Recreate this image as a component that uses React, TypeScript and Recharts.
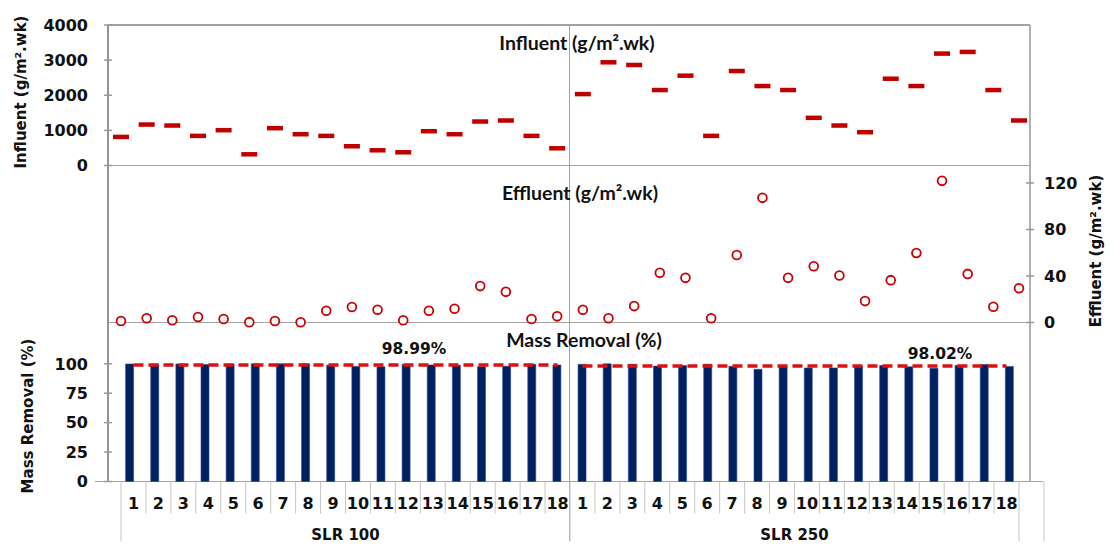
import React from 'react';
import { ComposedChart, Line, Bar, XAxis, YAxis } from 'recharts';

const weeks = ['1', '2', '3', '4', '5', '6', '7', '8', '9', '10', '11', '12', '13', '14', '15', '16', '17', '18'];
const groups = ['SLR 100', 'SLR 250'];

// g/m2.wk
const influent100 = [814, 1166, 1138, 843, 1005, 319, 1062, 890, 843, 548, 433, 376, 976, 890, 1252, 1281, 843, 490];
const influent250 = [2033, 2938, 2862, 2148, 2557, 843, 2690, 2262, 2148, 1357, 1138, 948, 2471, 2262, 3186, 3233, 2148, 1281];
const effluent100 = [1.3, 3.6, 1.9, 4.7, 3.0, 0.3, 1.3, 0.2, 10.1, 13.3, 11.0, 1.9, 10.1, 11.8, 31.3, 26.4, 3.0, 5.3];
const effluent250 = [11.0, 3.6, 14.1, 42.7, 38.4, 3.6, 58.1, 107.2, 38.4, 48.4, 40.4, 18.4, 36.4, 59.8, 121.8, 41.8, 13.5, 29.5];
// %
const removal100 = [99.8, 99.7, 99.8, 99.4, 99.7, 99.9, 99.9, 100, 98.8, 97.6, 97.5, 99.5, 99.0, 98.7, 97.5, 97.9, 99.6, 98.9];
const removal250 = [99.5, 99.9, 99.5, 98.0, 98.5, 99.6, 97.8, 95.3, 98.2, 96.4, 96.4, 98.1, 98.5, 97.4, 96.2, 98.7, 99.4, 97.7];
const meanRemoval = [98.99, 98.02];

const influentTicks = [0, 1000, 2000, 3000, 4000];
const effluentTicks = [0, 40, 80, 120];
const removalTicks = [0, 25, 50, 75, 100];

const influentByGroup = [influent100, influent250];
const effluentByGroup = [effluent100, effluent250];
const removalByGroup = [removal100, removal250];

const data = groups.flatMap((group, g) =>
  weeks.map((week, i) => ({
    key: `${group}|${week}`,
    influent: influentByGroup[g][i],
    effluent: effluentByGroup[g][i],
    removal: removalByGroup[g][i],
    meanA: g === 0 ? meanRemoval[0] : null,
    meanB: g === 1 ? meanRemoval[1] : null,
  }))
);

const W = 1114;
const frame = '#a3a3a3';
const tickColor = '#999';
const cellLine = '#c6c6c6';
const tickFont: React.CSSProperties = { fontFamily: '"DejaVu Sans", Verdana, sans-serif', fontWeight: 700, fontSize: 16, fill: '#111' };
const titleFont: React.CSSProperties = { fontFamily: 'Lato, "Noto Sans", sans-serif', fontWeight: 700, fontSize: 19.5, color: '#111' };
const axisTitleFont: React.CSSProperties = { fontFamily: '"DejaVu Sans", Verdana, sans-serif', fontWeight: 700, fontSize: 15, color: '#111' };
const xPad = { left: 13, right: 11 };

function LeftTick({ x, y, payload }: any) {
  const ax = x + 20;
  return (
    <g>
      <line x1={ax - 4} x2={ax + 4} y1={y} y2={y} stroke={tickColor} strokeWidth={1.5} />
      <text x={x} y={y} dy={5.8} textAnchor="end" style={tickFont}>{payload.value}</text>
    </g>
  );
}

function RightTick({ x, y, payload }: any) {
  const ax = x - 14;
  return (
    <g>
      <line x1={ax - 4} x2={ax + 4} y1={y} y2={y} stroke={tickColor} strokeWidth={1.5} />
      <text x={x} y={y} dy={5.8} textAnchor="start" style={tickFont}>{payload.value}</text>
    </g>
  );
}

function WeekTick({ x, y, payload, index }: any) {
  const half = payload.offset || 12.47;
  const [group, week] = String(payload.value).split('|');
  const first = index % 18 === 0;
  return (
    <g>
      <line x1={x - half} x2={x - half} y1={y} y2={y + (first ? 60 : 32)} stroke={cellLine} />
      <text x={x} y={y + 27} textAnchor="middle" style={tickFont}>{week}</text>
      {first && (
        <text x={x + 17 * half} y={y + 58} textAnchor="middle" style={{ ...tickFont, fontSize: 15 }}>{group}</text>
      )}
      {index === 35 && (
        <>
          <line x1={x + half} x2={x + half} y1={y} y2={y + 60} stroke={cellLine} />
          <line x1={x + 3 * half} x2={x + 3 * half} y1={y} y2={y + 60} stroke={cellLine} />
        </>
      )}
    </g>
  );
}

function DashMark(props: any) {
  const { cx, cy, index } = props;
  if (cx == null || cy == null) return <g key={`n${index}`} />;
  return <rect key={`d${index}`} x={cx - 8} y={cy - 2.25} width={16} height={4.5} fill="#c00000" />;
}

function Rule({ x1, y1, x2, y2, color = frame, w = 1.5 }: any) {
  const horiz = y1 === y2;
  return (
    <div
      style={{
        position: 'absolute',
        left: horiz ? x1 : x1 - w / 2,
        top: horiz ? y1 - w / 2 : y1,
        width: horiz ? x2 - x1 : w,
        height: horiz ? w : y2 - y1,
        background: color,
      }}
    />
  );
}

function Centered({ x, y, rotate, style, children }: any) {
  return (
    <div
      style={{
        position: 'absolute',
        left: x,
        top: y,
        transform: `translate(-50%, -50%)${rotate ? ' rotate(-90deg)' : ''}`,
        whiteSpace: 'nowrap',
        lineHeight: 1,
        ...style,
      }}
    >
      {children}
    </div>
  );
}

export default function App() {
  return (
    <div style={{ position: 'absolute', left: 0, top: 0, width: W, height: 544, background: '#fff', overflow: 'hidden' }}>
      {/* frame */}
      <Rule x1={108} y1={25} x2={1030} y2={25} />
      <Rule x1={108} y1={165.5} x2={1030} y2={165.5} />
      <Rule x1={108} y1={322.5} x2={1030} y2={322.5} />
      <Rule x1={95} y1={481.5} x2={1043} y2={481.5} />
      <Rule x1={108} y1={25} x2={108} y2={481.5} color="#939393" />
      <Rule x1={1030} y1={25} x2={1030} y2={481.5} color="#b0b0b0" w={2} />
      <Rule x1={569.5} y1={25} x2={569.5} y2={541} />

      {/* influent */}
      <div style={{ position: 'absolute', left: 0, top: 0 }}>
        <ComposedChart width={W} height={180} data={data} margin={{ top: 25, right: 84, bottom: 14.5, left: 0 }}>
          <XAxis dataKey="key" hide padding={xPad} />
          <YAxis width={108} domain={[0, 4000]} ticks={influentTicks} axisLine={false} tickLine={false}
            tickSize={0} tickMargin={20} tick={<LeftTick />} interval={0} />
          <Line dataKey="influent" stroke="none" dot={(p: any) => <DashMark {...p} key={`i${p.index}`} />}
            activeDot={false} isAnimationActive={false} />
        </ComposedChart>
      </div>

      {/* effluent */}
      <div style={{ position: 'absolute', left: 0, top: 160 }}>
        <ComposedChart width={W} height={180} data={data} margin={{ top: 5.5, right: 0, bottom: 17.5, left: 108 }}>
          <XAxis dataKey="key" hide padding={xPad} />
          <YAxis orientation="right" width={84} domain={[0, 135]} ticks={effluentTicks} axisLine={false}
            tickLine={false} tickSize={0} tickMargin={14} tick={<RightTick />} interval={0} />
          <Line dataKey="effluent" stroke="none" dot={{ r: 4.4, fill: '#fff', stroke: '#cc0000', strokeWidth: 1.8 }}
            activeDot={false} isAnimationActive={false} />
        </ComposedChart>
      </div>

      {/* mass removal */}
      <div style={{ position: 'absolute', left: 0, top: 310 }}>
        <ComposedChart width={W} height={234} data={data} margin={{ top: 12.5, right: 84, bottom: 0.5, left: 0 }}>
          <XAxis xAxisId="cells" dataKey="key" height={62} padding={xPad} axisLine={false} tickLine={false}
            tickSize={0} tickMargin={0} interval={0} tick={<WeekTick />} />
          <XAxis xAxisId="bars" dataKey="key" hide height={0} padding={{ left: 8.6, right: 8.5 }} />
          <YAxis width={108} domain={[0, 135]} ticks={removalTicks} axisLine={false} tickLine={false}
            tickSize={0} tickMargin={20} tick={<LeftTick />} interval={0} />
          <Bar xAxisId="bars" dataKey="removal" barSize={8} fill="#002060" stroke="#2a4a9a" strokeWidth={0.6}
            isAnimationActive={false} />
          <Line xAxisId="cells" dataKey="meanA" stroke="#dd1111" strokeWidth={3.5} strokeDasharray="10 5" dot={false}
            activeDot={false} isAnimationActive={false} />
          <Line xAxisId="cells" dataKey="meanB" stroke="#dd1111" strokeWidth={3.5} strokeDasharray="10 5" dot={false}
            activeDot={false} isAnimationActive={false} />
        </ComposedChart>
      </div>

      {/* titles */}
      <Centered x={577} y={43} style={titleFont}>Influent (g/m².wk)</Centered>
      <Centered x={580} y={193} style={titleFont}>Effluent (g/m².wk)</Centered>
      <Centered x={584} y={340} style={titleFont}>Mass Removal (%)</Centered>
      <Centered x={414} y={350} style={{ ...axisTitleFont, fontSize: 15.5 }}>{`${meanRemoval[0].toFixed(2)}%`}</Centered>
      <Centered x={940} y={355} style={{ ...axisTitleFont, fontSize: 15.5 }}>{`${meanRemoval[1].toFixed(2)}%`}</Centered>

      <Centered x={21} y={92} rotate style={axisTitleFont}>Influent (g/m².wk)</Centered>
      <Centered x={28} y={416} rotate style={axisTitleFont}>Mass Removal (%)</Centered>
      <Centered x={1096} y={251} rotate style={axisTitleFont}>Effluent (g/m².wk)</Centered>
    </div>
  );
}
